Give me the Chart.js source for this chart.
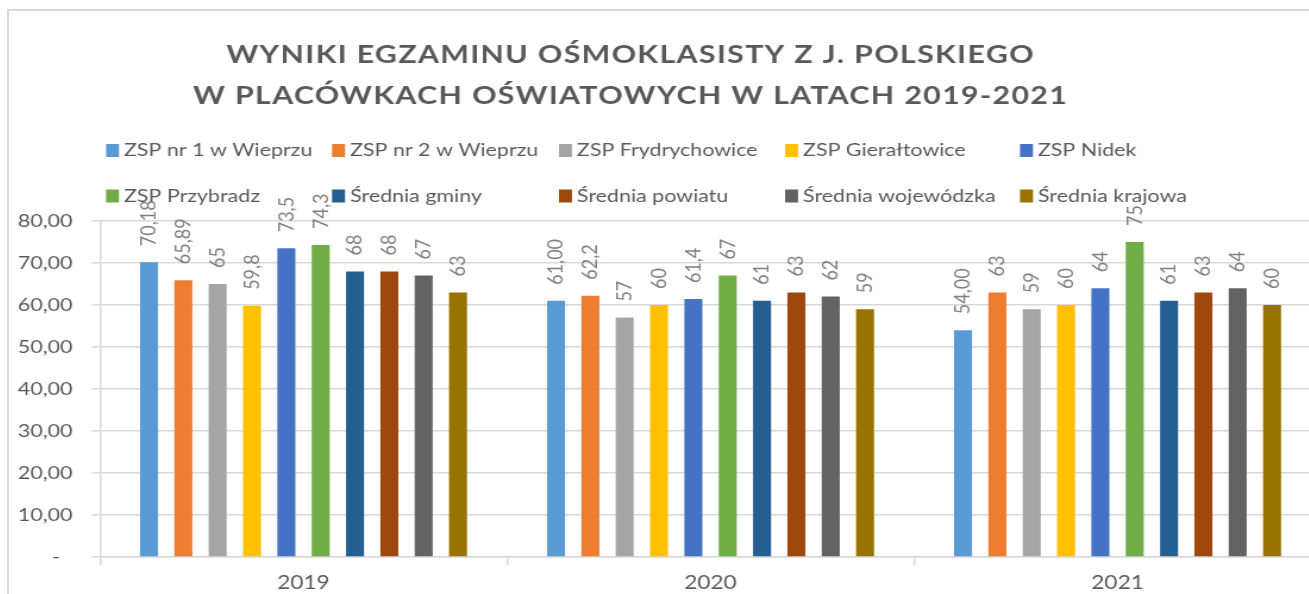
<!DOCTYPE html>
<html><head><meta charset="utf-8">
<script src="https://cdn.jsdelivr.net/npm/chart.js@4.4.1/dist/chart.umd.min.js"></script>
<style>
html,body{margin:0;padding:0;background:#fff;overflow:hidden;width:1309px;height:594px;}
#frame{position:absolute;left:7px;top:9px;width:1400px;height:700px;border:2px solid #D9D9D9;box-sizing:border-box;pointer-events:none;}
#wrap{position:absolute;left:8px;top:10px;width:1130px;height:590px;transform:scaleX(1.19);transform-origin:0 0;}
canvas{display:block;}
</style></head><body>
<div id="wrap"><canvas id="c" width="1130" height="590"></canvas></div>
<div id="frame"></div>
<script>
// ---- data ----
const categories = ['2019', '2020', '2021'];
const seriesNames = ['ZSP nr 1 w Wieprzu', 'ZSP nr 2 w Wieprzu', 'ZSP Frydrychowice', 'ZSP Gierałtowice', 'ZSP Nidek',
  'ZSP Przybradz', 'Średnia gminy', 'Średnia powiatu', 'Średnia wojewódzka', 'Średnia krajowa'];
const zspNr1 = [70.18, 61.00, 54.00];
const zspNr2 = [65.89, 62.2, 63];
const zspFrydrychowice = [65, 57, 59];
const zspGieraltowice = [59.8, 60, 60];
const zspNidek = [73.5, 61.4, 64];
const zspPrzybradz = [74.3, 67, 75];
const sredniaGminy = [68, 61, 61];
const sredniaPowiatu = [68, 63, 63];
const sredniaWojewodzka = [67, 62, 64];
const sredniaKrajowa = [63, 59, 60];
const seriesValues = [zspNr1, zspNr2, zspFrydrychowice, zspGieraltowice, zspNidek, zspPrzybradz,
  sredniaGminy, sredniaPowiatu, sredniaWojewodzka, sredniaKrajowa];
// number of decimals shown in value labels (null = general format)
const labelDecimals = [2, null, null, null, null, null, null, null, null, null];
const yTickValues = [0, 10, 20, 30, 40, 50, 60, 70, 80];
const titleLines = ['WYNIKI EGZAMINU OŚMOKLASISTY Z J. POLSKIEGO', 'W PLACÓWKACH OŚWIATOWYCH W LATACH 2019-2021'];

// ---- styles ----
const colors = ['#5B9BD5', '#ED7D31', '#A5A5A5', '#FFC000', '#4472C4', '#70AD47', '#255E91', '#9E480E', '#636363', '#997300'];
const TEXT = '#595959';
const GRID = '#D9D9D9';

function fmtComma(v, d) {
  const s = (d == null) ? String(v) : v.toFixed(d);
  return s.replace('.', ',');
}

const valueLabelPlugin = {
  id: 'valueLabels',
  afterDatasetsDraw(chart, args, o) {
    const ctx = chart.ctx;
    ctx.save();
    ctx.font = o.font;
    ctx.fillStyle = o.color;
    ctx.textAlign = 'left';
    ctx.textBaseline = 'middle';
    chart.data.datasets.forEach((ds, i) => {
      const meta = chart.getDatasetMeta(i);
      meta.data.forEach((el, j) => {
        const txt = fmtComma(ds.data[j], labelDecimals[i]);
        ctx.save();
        ctx.translate(el.x, el.y - o.gap);
        ctx.rotate(-Math.PI / 2);
        ctx.fillText(txt, 0, 0);
        ctx.restore();
      });
    });
    ctx.restore();
  }
};

const gridLegendPlugin = {
  id: 'gridLegend',
  afterDraw(chart, args, o) {
    const ctx = chart.ctx;
    ctx.save();
    ctx.font = o.font;
    ctx.textAlign = 'left';
    ctx.textBaseline = 'middle';
    chart.data.datasets.forEach((ds, i) => {
      const n = o.columns.length;
      const x = o.columns[i % n], y = o.rows[Math.floor(i / n)];
      ctx.fillStyle = ds.backgroundColor;
      ctx.fillRect(x, y - o.boxH / 2, o.boxW, o.boxH);
      ctx.fillStyle = o.color;
      ctx.fillText(ds.label, x + o.textGap, y);
    });
    ctx.restore();
  }
};

const spacingPlugin = {
  id: 'letterSpacingPatch',
  beforeDraw(chart, args, o) {
    const tb = chart.titleBlock;
    if (tb && !tb.__patched) {
      const orig = tb.draw;
      tb.draw = function (...a) {
        const c = this.ctx;
        c.save();
        c.letterSpacing = o.titleSpacing + 'px';
        c.translate(o.titleShift, 0);
        orig.apply(this, a);
        c.restore();
      };
      tb.__patched = true;
    }
  }
};

Chart.defaults.font.family = 'Lato';

const chart = new Chart(document.getElementById('c'), {
  type: 'bar',
  data: {
    labels: categories,
    datasets: seriesNames.map((name, i) => ({
      label: name,
      data: seriesValues[i],
      backgroundColor: colors[i],
      borderWidth: 0,
      categoryPercentage: 0.8436,
      barPercentage: 0.524
    }))
  },
  options: {
    responsive: false,
    animation: false,
    layout: { padding: { left: 0, right: 26.6, top: 0, bottom: 0 } },
    plugins: {
      legend: { display: false },
      tooltip: { enabled: false },
      title: {
        display: true,
        text: titleLines,
        color: TEXT,
        font: { family: 'Lato', size: 25.5, weight: 'bold', lineHeight: 1.588 },
        padding: { top: 25, bottom: 105 }
      },
      valueLabels: { font: '18px Lato', color: '#7F7F7F', gap: 16 },
      gridLegend: {
        font: '18px Lato', color: TEXT,
        columns: [82.4, 272.3, 463, 653, 850.4], rows: [140.5, 186],
        boxW: 10.9, boxH: 13, textGap: 15.1
      },
      letterSpacingPatch: { titleSpacing: 1.1, titleShift: -28.5 }
    },
    scales: {
      x: {
        offset: true,
        grid: { display: true, drawOnChartArea: false, drawTicks: true, tickLength: 8, color: GRID, lineWidth: 1.5 },
        border: { display: true, color: GRID, width: 1.5 },
        ticks: { color: TEXT, font: { size: 19 }, padding: 6.6 },
        afterFit(s) { s.height = 43; }
      },
      y: {
        min: 0, max: 80,
        afterBuildTicks(s) { s.ticks = yTickValues.map(v => ({ value: v })); },
        grid: { color: GRID, lineWidth: 1.5, drawTicks: true, tickLength: 6.7 },
        border: { display: true, color: GRID, width: 1.5 },
        ticks: {
          color: TEXT, font: { size: 18 }, padding: 16.5,
          callback: v => v === 0 ? '-\u2007' : fmtComma(v, 2)
        },
        afterFit(s) { s.width = 77.3; }
      }
    }
  },
  plugins: [valueLabelPlugin, gridLegendPlugin, spacingPlugin]
});

Promise.all([
  document.fonts.load('18px Lato'),
  document.fonts.load('bold 25.5px Lato')
]).then(() => chart.update()).catch(() => {});
</script></body></html>
